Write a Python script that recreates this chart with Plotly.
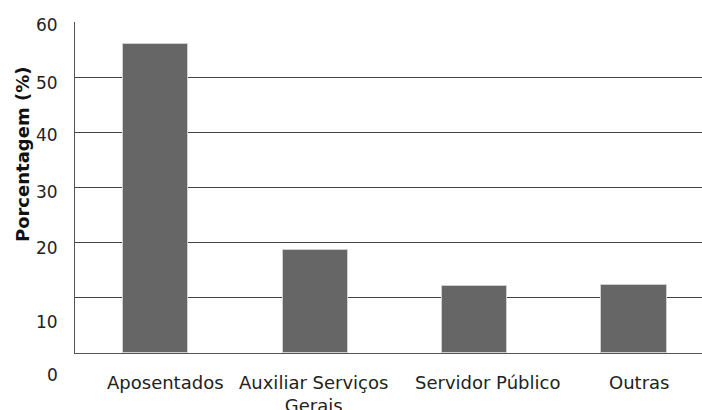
import plotly.graph_objects as go

categories = ["Aposentados", "Auxiliar Serviços<br>Gerais", "Servidor Público", "Outras"]
values = [56.0, 18.6, 12.1, 12.3]
y_tick_labels = ["60", "50", "40", "30", "20", "10", "0"]

# label placement (layout only)
y_label_pos = [0.9909, 0.8156, 0.6584, 0.4860, 0.3167, 0.0929, -0.0674]
x_label_pos = [0.058, 0.99, 2.084, 3.03]

FONT = "DejaVu Sans"

fig = go.Figure()
fig.add_trace(go.Bar(
    x=list(range(len(categories))), y=values, width=0.41,
    marker=dict(color="#666666", line=dict(color="#cfcfcf", width=1)),
))

ann = []
for lab, yp in zip(y_tick_labels, y_label_pos):
    ann.append(dict(text=lab, x=-15 / 627, xref="paper", y=yp, yref="paper",
                    xanchor="right", yanchor="middle", showarrow=False,
                    font=dict(family=FONT, size=17, color="#222222")))
for lab, xp in zip(categories, x_label_pos):
    ann.append(dict(text=lab, x=xp, xref="x", y=-0.052, yref="paper",
                    xanchor="center", yanchor="top", align="center", showarrow=False,
                    font=dict(family=FONT, size=18, color="#222222")))
ann.append(dict(text="<b>Porcentagem (%)</b>", x=-53 / 627, xref="paper", y=0.598, yref="paper",
                textangle=-90, xanchor="center", yanchor="middle", showarrow=False,
                font=dict(family=FONT, size=18, color="#111111")))

fig.update_layout(
    width=702, height=410,
    margin=dict(l=75, r=0, t=22, b=57),
    plot_bgcolor="white", paper_bgcolor="white",
    showlegend=False,
    annotations=ann,
    bargap=0,
)
fig.update_xaxes(range=[-0.507, 3.427], showticklabels=False, showgrid=False,
                 showline=True, linecolor="#555555", linewidth=1, ticks="", zeroline=False)
fig.update_yaxes(range=[0, 60], dtick=10, showticklabels=False, showgrid=True,
                 gridcolor="#444444", gridwidth=1, showline=True, linecolor="#555555",
                 linewidth=1, ticks="", zeroline=False)

fig.write_html("out.html")
